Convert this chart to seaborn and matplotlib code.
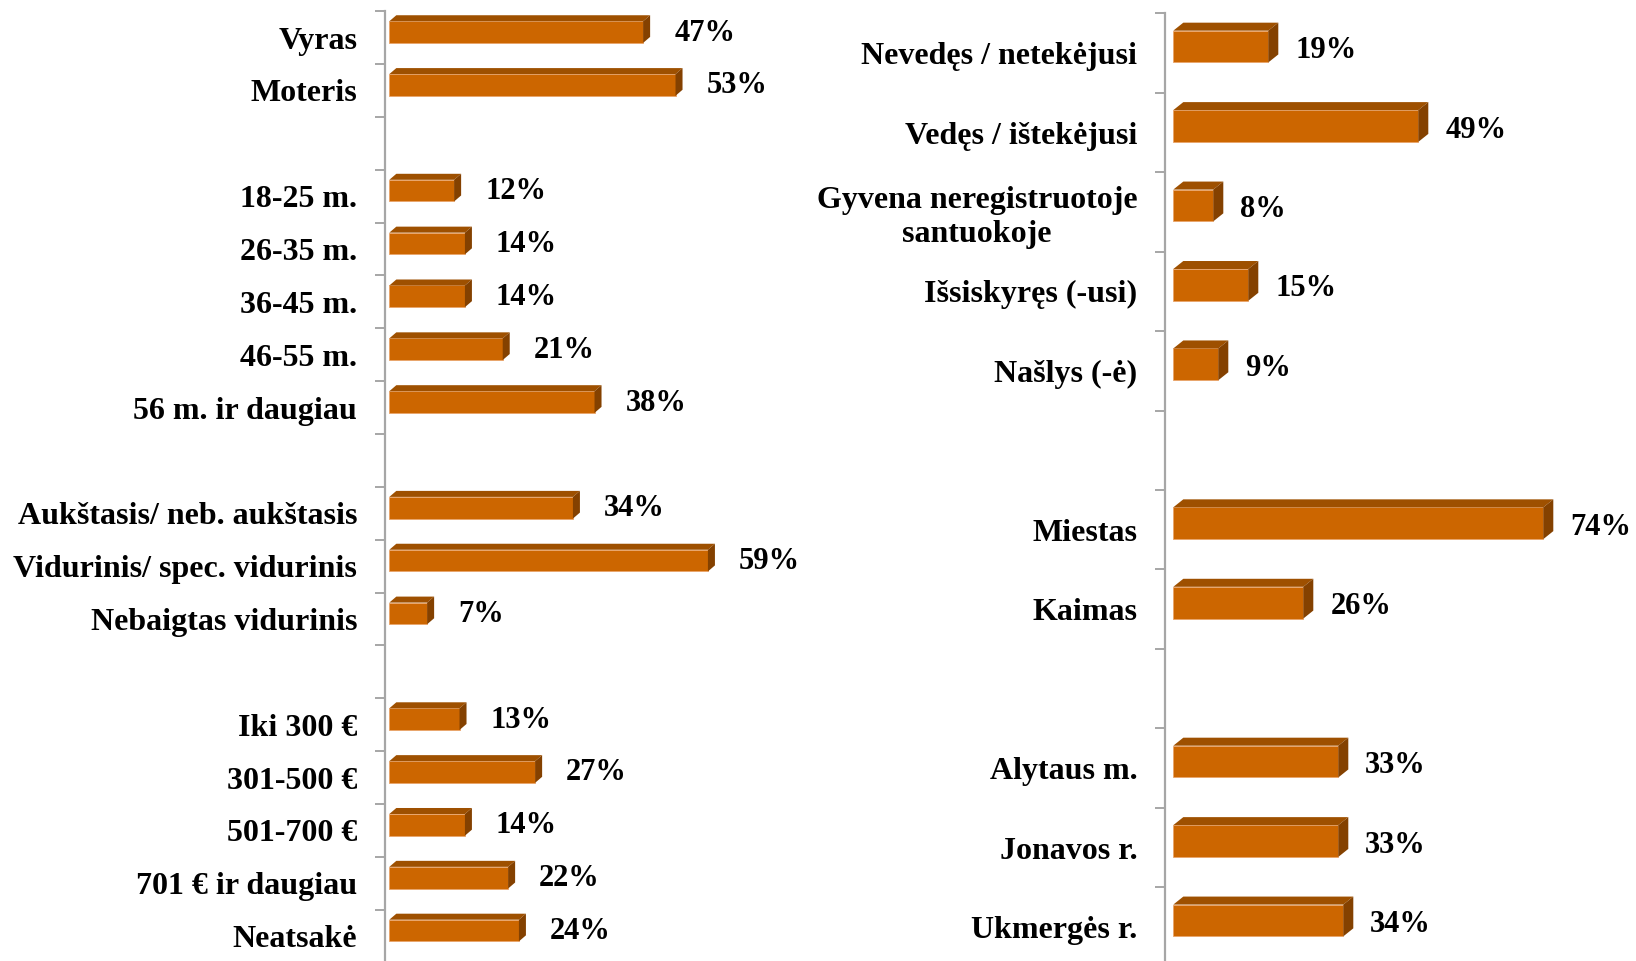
import numpy as np
import pandas as pd
import matplotlib
matplotlib.use("Agg")
import matplotlib.pyplot as plt
from matplotlib.patches import Polygon
import seaborn as sns

sns.set_theme(style="white")
plt.rcParams["font.family"] = ["Liberation Serif", "DejaVu Serif"]
plt.rcParams["font.weight"] = "bold"

# ---------------- data ----------------
left_order = ["Vyras", "Moteris", "",
              "18-25 m.", "26-35 m.", "36-45 m.", "46-55 m.", "56 m. ir daugiau", " ",
              "Aukštasis/ neb. aukštasis", "Vidurinis/ spec. vidurinis", "Nebaigtas vidurinis", "  ",
              "Iki 300 €", "301-500 €", "501-700 €", "701 € ir daugiau", "Neatsakė"]
left_categories = ["Vyras", "Moteris",
                   "18-25 m.", "26-35 m.", "36-45 m.", "46-55 m.", "56 m. ir daugiau",
                   "Aukštasis/ neb. aukštasis", "Vidurinis/ spec. vidurinis", "Nebaigtas vidurinis",
                   "Iki 300 €", "301-500 €", "501-700 €", "701 € ir daugiau", "Neatsakė"]
left_values = [47, 53, 12, 14, 14, 21, 38, 34, 59, 7, 13, 27, 14, 22, 24]

right_order = ["Nevedęs / netekėjusi", "Vedęs / ištekėjusi",
               "Gyvena neregistruotoje\nsantuokoje", "Išsiskyręs (-usi)", "Našlys (-ė)", "",
               "Miestas", "Kaimas", " ",
               "Alytaus m.", "Jonavos r.", "Ukmergės r."]
right_categories = ["Nevedęs / netekėjusi", "Vedęs / ištekėjusi",
                    "Gyvena neregistruotoje\nsantuokoje", "Išsiskyręs (-usi)", "Našlys (-ė)",
                    "Miestas", "Kaimas",
                    "Alytaus m.", "Jonavos r.", "Ukmergės r."]
right_values = [19, 49, 8, 15, 9, 74, 26, 33, 33, 34]

FRONT = "#CC6600"
TOP = "#9E5000"
SIDE = "#844100"
AXIS = "#A6A6A6"

W, H = 1636, 961
fig = plt.figure(figsize=(W / 100, H / 100), dpi=100)
fig.patch.set_facecolor("white")

ax1 = fig.add_axes([385 / W, 1 - 962.5 / H, (800 - 385) / W, (962.5 - 11.2) / H])
ax2 = fig.add_axes([1165 / W, 1 - 966.7 / H, (W - 1165) / W, (966.7 - 13.35) / H])


def draw_panel(ax, cats, vals, order, xlim, depth, gap_px, dy_px, shift, bw):
    df = pd.DataFrame({"cat": cats, "val": vals})
    sns.barplot(data=df, x="val", y="cat", order=order, ax=ax, color=FRONT,
                saturation=1, width=bw, edgecolor="#E9A46A", linewidth=0.6,
                orient="h")
    n = len(order)
    ax.set_xlim(*xlim)
    ax.set_ylim(n - 0.5, -0.5)
    for p in ax.patches:
        p.set_y(p.get_y() - shift)

    # tick structure: marks at slot boundaries, labels at centres
    ax.set_yticks(np.arange(n + 1) - 0.5, labels=[])
    ax.set_yticks(np.arange(n), labels=order, minor=True)
    ax.tick_params(axis="y", which="major", left=True, length=7.2, width=1.4,
                   color=AXIS, direction="out")
    ax.tick_params(axis="y", which="minor", left=True, length=0, pad=20,
                   labelsize=23)
    for t in ax.get_yticklabels(minor=True):
        t.set_fontweight("bold")
        t.set_color("black")
        t.set_multialignment("center")
    ax.set_xticks([])
    ax.set_xlabel("")
    ax.set_ylabel("")
    for s in ["top", "right", "bottom"]:
        ax.spines[s].set_visible(False)
    ax.spines["left"].set_color(AXIS)
    ax.spines["left"].set_linewidth(1.6)
    ax.set_facecolor("white")

    # 3-D faces derived from the bar geometry
    dx, dy = depth
    inv = ax.transData.inverted()
    bars = [p for p in ax.patches]
    for p in bars:
        x0, y0 = p.get_x(), p.get_y()
        w, h = p.get_width(), p.get_height()
        if w <= 0 or np.isnan(w):
            continue
        (px0, py_a), (px1, py_b) = ax.transData.transform([(x0, y0), (x0 + w, y0 + h)])
        ptop, pbot = max(py_a, py_b), min(py_a, py_b)
        top = inv.transform([(px0, ptop), (px1, ptop), (px1 + dx, ptop + dy), (px0 + dx, ptop + dy)])
        side = inv.transform([(px1, ptop), (px1 + dx, ptop + dy), (px1 + dx, pbot + dy), (px1, pbot)])
        ax.add_patch(Polygon(top, closed=True, facecolor=TOP, edgecolor="none", zorder=3))
        ax.add_patch(Polygon(side, closed=True, facecolor=SIDE, edgecolor="none", zorder=3))
        ax.annotate(f"{int(round(w))}%", xy=(x0 + w, y0 + h / 2),
                    xytext=((dx + gap_px) * 0.72, dy_px * 0.72), textcoords="offset points",
                    ha="left", va="center", fontsize=22, fontweight="bold",
                    color="black", annotation_clip=False)


draw_panel(ax1, left_categories, left_values, left_order,
           (-0.8, 76.05), (7, 6), 24, -1, 0.105, 0.41)
draw_panel(ax2, right_categories, right_values, right_order,
           (-1.66, 92.54), (10, 8), 17, -4, 0.082, 0.40)

fig.savefig("out.png", dpi=100, facecolor="white")
